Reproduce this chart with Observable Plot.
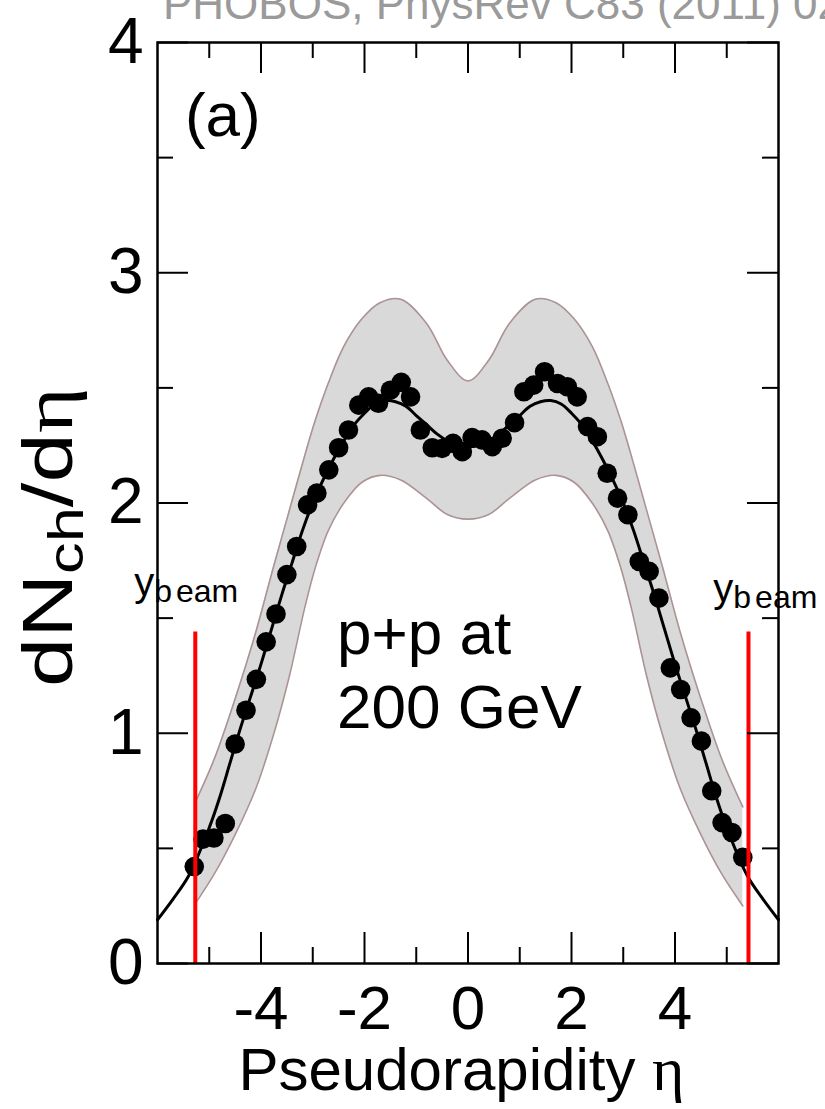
<!DOCTYPE html>
<html><head><meta charset="utf-8">
<script src="https://cdn.jsdelivr.net/npm/d3@7"></script>
<script src="https://cdn.jsdelivr.net/npm/@observablehq/plot@0.6"></script>
<style>
html,body{margin:0;padding:0;background:#fff;}
#chart{width:825px;height:1109px;overflow:hidden;}
</style></head><body><div id="chart"></div>
<script>
// measured dNch/deta points
const pointEta = [-5.29,-5.12,-4.91,-4.69,-4.50,-4.29,-4.09,-3.90,-3.71,-3.50,-3.31,-3.10,-2.92,-2.69,-2.50,-2.31,-2.11,-1.92,-1.73,-1.50,-1.29,-1.11,-0.92,-0.69,-0.50,-0.29,-0.11,0.08,0.27,0.47,0.66,0.90,1.08,1.27,1.48,1.73,1.92,2.11,2.31,2.50,2.69,2.89,3.09,3.31,3.50,3.69,3.91,4.11,4.31,4.51,4.71,4.91,5.10,5.31];
const pointVal = [0.421,0.540,0.545,0.608,0.953,1.100,1.234,1.397,1.518,1.689,1.811,1.992,2.043,2.144,2.240,2.317,2.425,2.461,2.433,2.490,2.524,2.461,2.317,2.240,2.237,2.259,2.223,2.284,2.274,2.245,2.281,2.349,2.483,2.512,2.570,2.519,2.505,2.461,2.332,2.288,2.129,2.021,1.949,1.746,1.703,1.587,1.284,1.190,1.067,0.966,0.750,0.612,0.569,0.461];

// fit curve
const fitEta = [-6.0,-5.7,-5.4,-5.0,-4.8,-4.6,-4.4,-4.2,-4.0,-3.8,-3.6,-3.4,-3.2,-3.0,-2.8,-2.6,-2.4,-2.2,-2.0,-1.8,-1.6,-1.4,-1.2,-1.0,-0.8,-0.6,-0.4,-0.2,0,0.2,0.4,0.6,0.8,1.0,1.2,1.4,1.6,1.8,2.0,2.2,2.4,2.6,2.8,3.0,3.2,3.4,3.6,3.8,4.0,4.2,4.4,4.6,4.8,5.0,5.4,5.7,6.0];
const fitVal = [0.19,0.28,0.38,0.59,0.72,0.87,1.02,1.16,1.30,1.45,1.60,1.74,1.88,2.00,2.10,2.19,2.27,2.34,2.39,2.43,2.445,2.44,2.42,2.38,2.34,2.30,2.27,2.25,2.245,2.25,2.27,2.30,2.34,2.38,2.42,2.44,2.445,2.43,2.39,2.34,2.27,2.19,2.10,2.00,1.88,1.74,1.60,1.45,1.30,1.16,1.02,0.87,0.72,0.59,0.38,0.28,0.19];

// systematic band
const bandEta = [-5.27,-4.9,-4.5,-4.1,-3.75,-3.45,-3.15,-2.95,-2.7,-2.4,-2.05,-1.7,-1.3,-0.8,-0.4,0,0.4,0.8,1.3,1.7,2.05,2.4,2.7,2.95,3.15,3.45,3.75,4.1,4.5,4.9,5.31];
const bandLow = [0.26,0.39,0.56,0.76,1.00,1.25,1.55,1.72,1.88,2.00,2.09,2.12,2.10,2.02,1.95,1.93,1.95,2.02,2.10,2.12,2.09,2.00,1.88,1.72,1.55,1.25,1.00,0.76,0.56,0.39,0.25];
const bandHigh = [0.70,0.89,1.15,1.44,1.73,1.97,2.21,2.36,2.52,2.68,2.80,2.87,2.885,2.78,2.62,2.53,2.62,2.78,2.885,2.87,2.80,2.68,2.52,2.36,2.21,1.97,1.73,1.44,1.15,0.89,0.68];

// beam rapidity markers
const beamEta = [-5.27, 5.42];
const beamTop = 1.44;

// ticks
const xMajorTicks = [-4,-2,0,2,4];
const xMinorTicks = [-5,-3,-1,1,3,5];
const yMajorTicks = [0,1,2,3,4];
const yMinorTicks = [0.5,1.5,2.5,3.5];

// labels
const panelLabel = "(a)";
const systemLabel = ["p+p at", "200 GeV"];
const xTitle = "Pseudorapidity ";
const sourceText = "PHOBOS, PhysRev C83 (2011) 024913";

const W = 825, H = 1109, mT = 42, mB = 146, mL = 157, mR = 47;
const innerH = H - mT - mB, innerW = W - mL - mR;

const points = pointEta.map((e, i) => ({eta: e, v: pointVal[i]}));
const fit = fitEta.map((e, i) => ({eta: e, v: fitVal[i]}));
const band = bandEta.map((e, i) => ({eta: e, lo: bandLow[i], hi: bandHigh[i]}));
const annot = [
  {eta: -5.47, v: 3.678, text: panelLabel, size: 62},
  {eta: -2.53, v: 1.429, text: systemLabel[0], size: 62},
  {eta: -2.53, v: 1.109, text: systemLabel[1], size: 62}
];

const font = "'Liberation Sans', Arial, Helvetica, sans-serif";
const serif = "'Liberation Serif', 'DejaVu Serif', serif";

const plot = Plot.plot({
  width: W, height: H,
  marginTop: mT, marginBottom: mB, marginLeft: mL, marginRight: mR,
  x: {domain: [-6, 6]},
  y: {domain: [0, 4]},
  style: {fontFamily: font, background: "white", color: "black", overflow: "visible"},
  marks: [
    Plot.areaY(band, {x: "eta", y1: "lo", y2: "hi", fill: "#d9d9d9", curve: "catmull-rom"}),
    Plot.lineY(band, {x: "eta", y: "hi", stroke: "#ab9393", strokeWidth: 1.6, curve: "catmull-rom"}),
    Plot.lineY(band, {x: "eta", y: "lo", stroke: "#ab9393", strokeWidth: 1.6, curve: "catmull-rom"}),
    Plot.lineY(fit, {x: "eta", y: "v", stroke: "black", strokeWidth: 3, curve: "catmull-rom"}),
    Plot.dot(points, {x: "eta", y: "v", r: 9.8, fill: "black", stroke: "none"}),
    Plot.ruleX(beamEta, {x: d => d, y1: 0, y2: beamTop, stroke: "#ff0000", strokeWidth: 4}),
    // inward ticks
    Plot.tickX(xMajorTicks, {x: d => d, insetTop: innerH - 31, stroke: "black", strokeWidth: 2}),
    Plot.tickX(xMinorTicks, {x: d => d, insetTop: innerH - 16, stroke: "black", strokeWidth: 2}),
    Plot.tickX(xMajorTicks, {x: d => d, insetBottom: innerH - 31, stroke: "black", strokeWidth: 2}),
    Plot.tickX(xMinorTicks, {x: d => d, insetBottom: innerH - 16, stroke: "black", strokeWidth: 2}),
    Plot.tickY(yMajorTicks, {y: d => d, insetRight: innerW - 31, stroke: "black", strokeWidth: 2}),
    Plot.tickY(yMinorTicks, {y: d => d, insetRight: innerW - 16, stroke: "black", strokeWidth: 2}),
    Plot.tickY(yMajorTicks, {y: d => d, insetLeft: innerW - 31, stroke: "black", strokeWidth: 2}),
    Plot.tickY(yMinorTicks, {y: d => d, insetLeft: innerW - 16, stroke: "black", strokeWidth: 2}),
    Plot.frame({stroke: "black", strokeWidth: 2.5}),
    Plot.axisX({ticks: xMajorTicks, anchor: "bottom", tickSize: 0, tickPadding: 21, fontSize: 62, tickFormat: d => String(d), label: null, stroke: "black", strokeWidth: 0.4}),
    Plot.axisY({ticks: yMajorTicks, anchor: "left", tickSize: 0, tickPadding: 14, fontSize: 64, tickFormat: d => String(d), label: null, stroke: "black", strokeWidth: 0.6}),
    Plot.text(annot, {x: "eta", y: "v", text: "text", fontSize: "size", textAnchor: "start", lineAnchor: "middle", fill: "black"})
  ]
});

document.getElementById("chart").appendChild(plot);

const svg = d3.select(plot);
const sx = plot.scale("x"), sy = plot.scale("y");

// source caption (cut off at top edge, as in the reference)
svg.append("text").attr("x", 163).attr("y", 19).attr("text-anchor", "start")
  .attr("font-family", font).attr("font-size", 44).attr("fill", "#9a9a9a").text(sourceText);

// x title
const xt = svg.append("text").attr("x", (sx.apply(-6) + sx.apply(6)) / 2 - 6).attr("y", 1090)
  .attr("text-anchor", "middle").attr("font-family", font).attr("font-size", 60).attr("fill", "black");
xt.append("tspan").text(xTitle);
xt.append("tspan").attr("font-family", serif).attr("font-size", 62).text("η");

// y title
const yt = svg.append("text").attr("transform", `translate(72, ${sy.apply(1.85)}) rotate(-90)`)
  .attr("text-anchor", "middle").attr("font-family", font).attr("font-size", 70).attr("fill", "black")
  .attr("textLength", 300).attr("lengthAdjust", "spacingAndGlyphs");
yt.append("tspan").text("dN");
yt.append("tspan").attr("font-size", 50).attr("dy", 11).text("ch");
yt.append("tspan").attr("dy", -11).text("/d");
yt.append("tspan").attr("font-family", serif).text("η");

// y_beam labels
function beamLabel(x, base) {
  const t = svg.append("text").attr("x", x).attr("y", base).attr("text-anchor", "start")
    .attr("font-family", font).attr("fill", "black");
  t.append("tspan").attr("font-size", 40).text("y");
  t.append("tspan").attr("font-size", 32).attr("dy", 6).text("b");
  t.append("tspan").attr("font-size", 32).attr("dx", 4).text("eam");
}
beamLabel(sx.apply(-6.44), 596);
beamLabel(sx.apply(4.75), 602);
</script>
</body></html>
